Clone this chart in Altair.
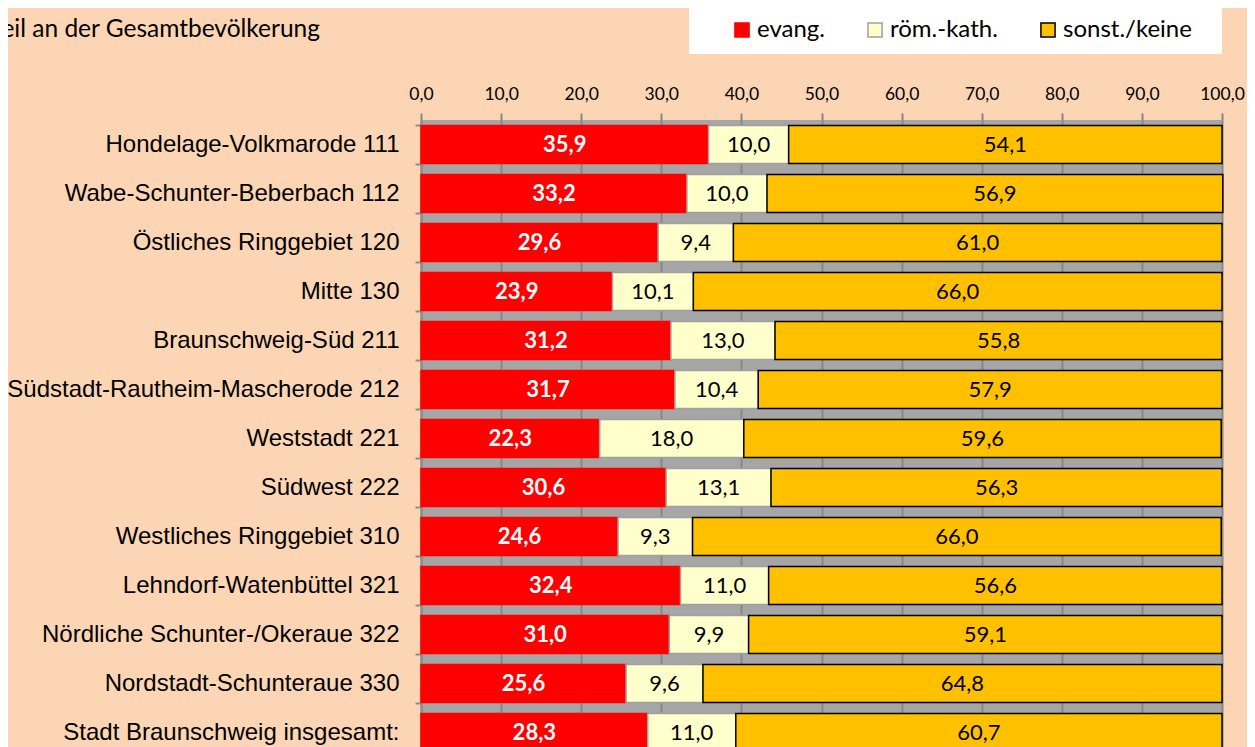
import altair as alt
import pandas as pd

regions = [
    "Hondelage-Volkmarode 111",
    "Wabe-Schunter-Beberbach 112",
    "Östliches Ringgebiet 120",
    "Mitte 130",
    "Braunschweig-Süd 211",
    "Südstadt-Rautheim-Mascherode 212",
    "Weststadt 221",
    "Südwest 222",
    "Westliches Ringgebiet 310",
    "Lehndorf-Watenbüttel 321",
    "Nördliche Schunter-/Okeraue 322",
    "Nordstadt-Schunteraue 330",
    "Stadt Braunschweig insgesamt:",
]
evang = [35.9, 33.2, 29.6, 23.9, 31.2, 31.7, 22.3, 30.6, 24.6, 32.4, 31.0, 25.6, 28.3]
kath = [10.0, 10.0, 9.4, 10.1, 13.0, 10.4, 18.0, 13.1, 9.3, 11.0, 9.9, 9.6, 11.0]
sonst = [54.1, 56.9, 61.0, 66.0, 55.8, 57.9, 59.6, 56.3, 66.0, 56.6, 59.1, 64.8, 60.7]
series = ["evang.", "röm.-kath.", "sonst./keine"]
fills = ["#FF0000", "#FFFFCC", "#FFC000"]
strokes = ["#FF0000", "#A0A0A0", "#000000"]
x_ticks = [0, 10, 20, 30, 40, 50, 60, 70, 80, 90, 100]
subtitle = "Anteil an der Gesamtbevölkerung"

rows = []
for i, r in enumerate(regions):
    for j, (s, vals) in enumerate(zip(series, [evang, kath, sonst])):
        rows.append({"region": r, "series": s, "order": j, "value": vals[i]})
df = pd.DataFrame(rows)

W, H = 801, 637

base = alt.Chart(df).transform_stack(
    stack="value", groupby=["region"], as_=["x0", "x1"], sort=[alt.SortField("order")]
).transform_calculate(
    mid="(datum.x0 + datum.x1) / 2",
    lbl="replace(format(datum.value, '.1f'), '.', ',')",
)

yenc = alt.Y(
    "region:N",
    sort=regions,
    scale=alt.Scale(paddingInner=0.22, paddingOuter=0.11),
    axis=alt.Axis(
        title=None,
        labelFont="Liberation Sans",
        labelFontSize=24,
        labelColor="#000000",
        labelPadding=16,
        labelLimit=600,
        tickBand="extent",
        tickColor="#8C8C8C",
        tickWidth=2,
        tickSize=6,
        domainColor="#8C8C8C",
        domainWidth=2,
    ),
)

xscale = alt.Scale(domain=[0, 100], nice=False)

bars = base.mark_bar(strokeWidth=1.5).encode(
    x=alt.X(
        "x0:Q",
        scale=xscale,
        axis=alt.Axis(
            orient="top",
            title=None,
            values=x_ticks,
            labelExpr="replace(format(datum.value, '.1f'), '.', ',')",
            labelFont="Lato",
            labelFontSize=17.5,
            labelColor="#000000",
            labelPadding=10,
            labelFlush=False,
            labelOverlap=False,
            grid=True,
            gridColor="#878787",
            gridWidth=2,
            tickColor="#878787",
            tickWidth=2,
            tickSize=7,
            domain=False,
        ),
    ),
    x2="x1:Q",
    y=yenc,
    fill=alt.Fill(
        "series:N",
        scale=alt.Scale(domain=series, range=fills),
        legend=alt.Legend(
            title=None,
            orient="none",
            direction="horizontal",
            legendX=309,
            legendY=-102,
            symbolType="square",
            symbolSize=200,
            symbolStrokeWidth=1.5,
            labelFont="Lato",
            labelFontSize=24,
            labelColor="#000000",
            labelOffset=3,
            columnPadding=38,
            padding=0,
        ),
    ),
    stroke=alt.Stroke("series:N", scale=alt.Scale(domain=series, range=strokes)),
)

txt_red = base.transform_filter(alt.datum.order == 0).mark_text(
    font="Lato", fontSize=22, fontWeight="bold", color="#FFFFFF"
).encode(x=alt.X("mid:Q", scale=xscale), y=alt.Y("region:N", sort=regions), text="lbl:N")

txt_other = base.transform_filter(alt.datum.order > 0).mark_text(
    font="Lato", fontSize=22, color="#000000"
).encode(x=alt.X("mid:Q", scale=xscale), y=alt.Y("region:N", sort=regions), text="lbl:N")

legend_box = alt.Chart(pd.DataFrame({"a": [0]})).mark_rect(color="#FFFFFF").encode(
    x=alt.value(268), x2=alt.value(801), y=alt.value(-114), y2=alt.value(-66)
)

sub = alt.Chart(pd.DataFrame({"t": [subtitle]})).mark_text(
    font="Lato", fontSize=24.5, align="right", baseline="middle", color="#000000"
).encode(x=alt.value(-101), y=alt.value(-90), text="t:N")

chart = alt.layer(legend_box, sub, bars, txt_red, txt_other).properties(
    width=W,
    height=H,
    background="#FCD5B4",
    autosize=alt.AutoSizeParams(type="none"),
    padding={"left": 413, "top": 112, "right": 25, "bottom": 0},
).configure_view(fill="#A6A6A6", stroke=None)

chart.save("out.html", embed_options={"renderer": "svg", "actions": False})
